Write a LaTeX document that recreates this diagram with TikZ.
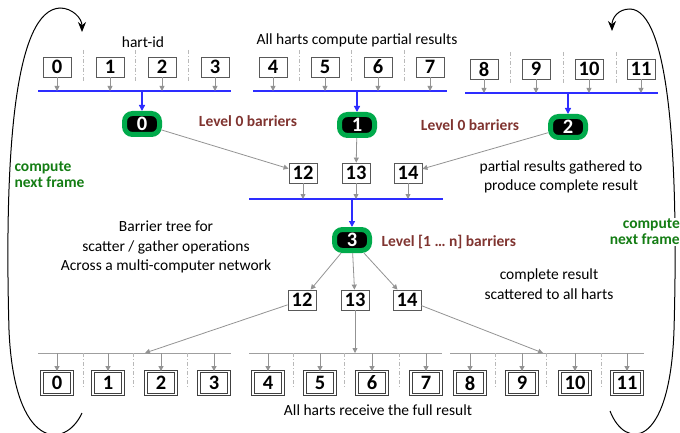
\documentclass[tikz,border=0pt]{standalone}
\usepackage{fontspec}
\setmainfont{Carlito}
\usetikzlibrary{arrows.meta,positioning}
\definecolor{barrgreen}{RGB}{0,170,75}
\definecolor{lvlred}{RGB}{128,52,48}
\definecolor{framegreen}{RGB}{20,125,20}
\definecolor{busblue}{RGB}{45,45,255}

\begin{document}
\begin{tikzpicture}[x=1pt,y=-1pt,
  font=\fontsize{15.5}{19.5}\selectfont,
  hart/.style={draw=black!65, fill=white, line width=0.8pt, minimum width=28,
               minimum height=20, inner sep=0pt,
               font=\fontsize{20.5}{20}\selectfont\bfseries},
  recv/.style={hart, draw=black!75, double=white, double distance=1.8pt,
               minimum width=30, minimum height=23},
  barrier/.style={draw=barrgreen, line width=5pt, fill=black, rounded corners=8pt,
                  minimum width=35, minimum height=21, inner sep=0pt, text=white,
                  font=\fontsize{20.5}{20}\selectfont\bfseries},
  bus/.style={busblue, line width=1.3pt},
  down/.style={busblue, line width=1.3pt, -{Triangle[length=6pt,width=6pt]}},
  rail/.style={gray!75, line width=0.8pt},
  feed/.style={gray!85, line width=0.8pt, -{Triangle[length=5pt,width=5pt]}},
  divider/.style={gray!55, line width=0.6pt, dash pattern=on 4pt off 2pt on 1pt off 2pt},
  lvl/.style={text=lvlred, font=\fontsize{15.5}{19.5}\selectfont\bfseries},
  framelbl/.style={text=framegreen, font=\fontsize{15.5}{16}\selectfont\bfseries},
  note/.style={align=center},
  nextframe/.style={black, line width=1pt, -{Stealth[length=10pt,width=8pt]}}]
\useasboundingbox (0,0) rectangle (680,433);

% loops round the frame
\draw[nextframe] (82,413) .. controls (65,450) and (14,450) .. (9,330)
  .. controls (4,150) and (15,10) .. (60,8) .. controls (72,8) and (82,18) .. (82,32);
\draw[nextframe] (610,411) .. controls (625,450) and (670,450) .. (674,330)
  .. controls (679,150) and (668,10) .. (630,9) .. controls (618,9) and (612,18) .. (612,31);

% harts computing partial results
\node (hartid) at (143,42) {hart-id};
\node (partial) at (357,40) {All harts compute partial results};
\foreach \i/\x in {0/57,1/110,2/162,3/215,4/273,5/325,6/378,7/430}
  \node[hart] (t\i) at (\x,67) {\i};
\foreach \i/\x in {8/484,9/536,10/589,11/641}
  \node[hart] (t\i) at (\x,69) {\i};
\foreach \x in {83,135,188,299,351,404}
  \draw[divider] (\x,50) -- (\x,82);
\foreach \x in {510,563,616}
  \draw[divider] (\x,52) -- (\x,84);

\coordinate (busA-w) at (38,91);  \coordinate (busA-e) at (231,91);
\coordinate (busB-w) at (253,91); \coordinate (busB-e) at (447,91);
\coordinate (busC-w) at (465,93); \coordinate (busC-e) at (658,93);
\draw[bus] (busA-w) -- (busA-e);
\draw[bus] (busB-w) -- (busB-e);
\draw[bus] (busC-w) -- (busC-e);
\foreach \i in {0,...,3}  \draw[feed] (t\i) -- (t\i |- busA-w);
\foreach \i in {4,...,7}  \draw[feed] (t\i) -- (t\i |- busB-w);
\foreach \i in {8,...,11} \draw[feed] (t\i) -- (t\i |- busC-w);

% level 0 barriers
\node[barrier] (b0) at (142,124) {0};
\node[barrier] (b1) at (357,125) {1};
\node[barrier] (b2) at (568,127) {2};
\draw[down] (b0 |- busA-w) -- (b0);
\draw[down] (b1 |- busB-w) -- (b1);
\draw[down] (b2 |- busC-w) -- (b2);
\node[lvl] (lvlA) at (248,121) {Level 0 barriers};
\node[lvl] (lvlB) at (470,125) {Level 0 barriers};

% gather
\node[hart] (g12) at (303,173) {12};
\node[hart] (g13) at (356,173) {13};
\node[hart] (g14) at (408,173) {14};
\draw[feed] (b0) -- (g12);
\draw[feed] (b1) -- (g13);
\draw[feed] (b2) -- (g14);
\node[note] (gathered) at (561,177) {partial results gathered to\\produce complete result};
\node[framelbl, align=left, anchor=west] (nextL) at (11,175) {compute\\next frame};

\coordinate (busM-w) at (249,199); \coordinate (busM-e) at (443,199);
\draw[bus] (busM-w) -- (busM-e);
\foreach \g in {g12,g13,g14} \draw[feed] (\g) -- (\g |- busM-w);

% level 1..n barrier
\node[barrier] (b3) at (352,240) {3};
\draw[down] (b3 |- busM-w) -- (b3);
\node[lvl, anchor=west] (lvlN) at (378,242) {Level [1 \dots\ n] barriers};
\node[note] (treenote) at (166,247) {Barrier tree for\\scatter / gather operations\\Across a multi-computer network};
\node[framelbl, align=right, anchor=east, fill=white, inner sep=1pt] (nextR) at (681,232) {compute\\next frame};

% scatter
\node[hart] (s12) at (302,300) {12};
\node[hart] (s13) at (355,300) {13};
\node[hart] (s14) at (407,300) {14};
\draw[feed] (b3) -- (s12);
\draw[feed] (b3) -- (s13);
\draw[feed] (b3) -- (s14);
\node[note] (scattered) at (549,284) {complete result\\scattered to all harts};

\coordinate (railA-w) at (38,353);  \coordinate (railA-e) at (231,353);
\coordinate (railB-w) at (249,353); \coordinate (railB-e) at (442,353);
\coordinate (railC-w) at (450,353); \coordinate (railC-e) at (644,353);
\draw[rail] (railA-w) -- (railA-e);
\draw[rail] (railB-w) -- (railB-e);
\draw[rail] (railC-w) -- (railC-e);
\coordinate (hit12) at (145,353);
\coordinate (hit13) at (355,353);
\coordinate (hit14) at (543,353);
\draw[feed] (s12) -- (hit12);
\draw[feed] (s13) -- (hit13);
\draw[feed] (s14) -- (hit14);

% harts receiving the result
\foreach \i/\x in {0/57,1/108,2/161,3/214,4/268,5/320,6/372,7/426,8/470,9/522,10/575,11/627}
  \node[recv] (r\i) at (\x,383) {\i};
\foreach \x in {83,133,187,293,344,399,495,546,601}
  \draw[divider] (\x,353) -- (\x,388);
\foreach \i in {0,...,11} \draw[feed] (r\i |- railA-w) -- (r\i);
\node (fullres) at (378,410) {All harts receive the full result};
\end{tikzpicture}
\end{document}
